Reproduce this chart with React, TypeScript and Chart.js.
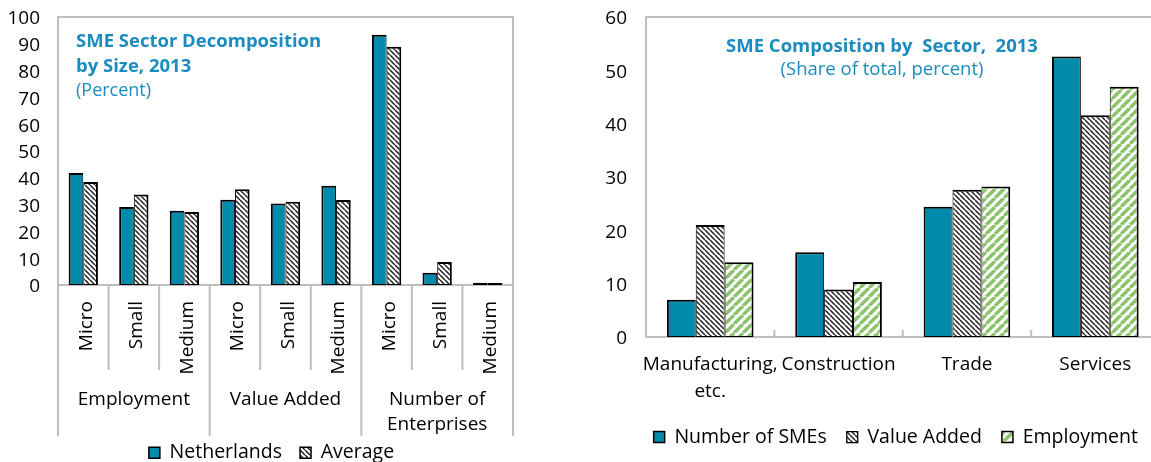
import React, { useEffect, useRef } from 'react';
import { Chart, registerables } from 'chart.js';

Chart.register(...registerables);

// ---------- data ----------
const sizeLabels = ['Micro', 'Small', 'Medium', 'Micro', 'Small', 'Medium', 'Micro', 'Small', 'Medium'];
const sizeGroups: (string | string[])[] = ['Employment', 'Value Added', ['Number of', 'Enterprises']];
const netherlands = [41.8, 29.1, 27.7, 31.8, 30.4, 37.0, 93.4, 4.6, 0.8];
const average = [38.4, 33.8, 27.2, 35.7, 31.1, 31.7, 88.9, 8.6, 0.7];
const leftTicksMax = 100;
const leftTitleLines = ['SME Sector Decomposition', 'by Size, 2013'];
const leftSubtitle = '(Percent)';

const sectors: (string | string[])[] = [['Manufacturing,', 'etc.'], 'Construction', 'Trade', 'Services'];
const numberOfSMEs = [7.0, 15.9, 24.4, 52.6];
const valueAdded = [21.0, 8.9, 27.6, 41.6];
const employment = [14.0, 10.3, 28.2, 46.9];
const rightTicksMax = 60;
const rightTitle = 'SME Composition by  Sector,  2013';
const rightSubtitle = '(Share of total, percent)';

// ---------- style ----------
const FONT = "'Open Sans', 'Noto Sans', sans-serif";
const TEAL = '#008aab';
const TITLE = '#1a8cbf';
const FRAME = '#bfbfbf';

Chart.defaults.font.family = FONT;
Chart.defaults.font.size = 19;
Chart.defaults.color = '#000';

function hatch(ctx: CanvasRenderingContext2D, size: number, width: number, color: string, dir: 'down' | 'up') {
  const c = document.createElement('canvas');
  c.width = size;
  c.height = size;
  const g = c.getContext('2d')!;
  g.fillStyle = '#fff';
  g.fillRect(0, 0, size, size);
  g.strokeStyle = color;
  g.lineWidth = width;
  g.beginPath();
  for (const k of [-size, 0, size]) {
    if (dir === 'down') {
      g.moveTo(k, 0);
      g.lineTo(k + size, size);
    } else {
      g.moveTo(k, size);
      g.lineTo(k + size, 0);
    }
  }
  g.stroke();
  return ctx.createPattern(c, 'repeat');
}

const framePlugin = {
  id: 'frame',
  beforeDatasetsDraw(chart: any) {
    const { ctx, chartArea } = chart;
    const { left, right, top, bottom } = chartArea;
    ctx.save();
    ctx.strokeStyle = FRAME;
    ctx.lineWidth = 2;
    ctx.strokeRect(left, top, right - left, bottom - top);
    ctx.restore();
  },
};

// moves the legend sideways so it sits where the original placed it
const legendShift = {
  id: 'legendShift',
  afterLayout(chart: any, _args: any, opts: any) {
    const l = chart.legend;
    if (!l || !opts || !opts.dx) return;
    l.left += opts.dx;
    l.right += opts.dx;
  },
};

function boundaryX(chart: any, i: number, n: number) {
  const xs = chart.scales.x;
  const { left, right } = chart.chartArea;
  if (i === 0) return left;
  if (i === n) return right;
  return (xs.getPixelForValue(i - 1) + xs.getPixelForValue(i)) / 2;
}

const leftDecor = {
  id: 'leftDecor',
  afterDraw(chart: any) {
    const { ctx, chartArea } = chart;
    const { left, bottom } = chartArea;
    const xs = chart.scales.x;
    const n = sizeLabels.length;
    const per = n / sizeGroups.length;
    ctx.save();
    ctx.strokeStyle = FRAME;
    ctx.lineWidth = 2;
    for (let i = 0; i <= n; i++) {
      const x = boundaryX(chart, i, n);
      const len = i % per === 0 ? 151 : 85;
      ctx.beginPath();
      ctx.moveTo(x, bottom);
      ctx.lineTo(x, bottom + len);
      ctx.stroke();
    }
    ctx.fillStyle = '#000';
    ctx.font = `19px ${FONT}`;
    ctx.textAlign = 'center';
    ctx.textBaseline = 'middle';
    sizeGroups.forEach((g, gi) => {
      const cx = (xs.getPixelForValue(gi * per) + xs.getPixelForValue(gi * per + per - 1)) / 2;
      const lines = Array.isArray(g) ? g : [g];
      lines.forEach((l, li) => ctx.fillText(l, cx, bottom + 115 + li * 25));
    });
    // title
    ctx.fillStyle = TITLE;
    ctx.textAlign = 'left';
    ctx.textBaseline = 'alphabetic';
    ctx.font = `bold 18.5px ${FONT}`;
    leftTitleLines.forEach((l, li) => ctx.fillText(l, left + 18, 47 + li * 25));
    ctx.font = `18px ${FONT}`;
    ctx.fillText(leftSubtitle, left + 18, 96);
    ctx.restore();
  },
};

const rightDecor = {
  id: 'rightDecor',
  beforeDatasetsDraw(chart: any) {
    const { ctx, chartArea } = chart;
    const { bottom } = chartArea;
    const n = sectors.length;
    ctx.save();
    ctx.strokeStyle = FRAME;
    ctx.lineWidth = 2;
    for (let i = 1; i < n; i++) {
      const x = boundaryX(chart, i, n);
      ctx.beginPath();
      ctx.moveTo(x, bottom - 7);
      ctx.lineTo(x, bottom);
      ctx.stroke();
    }
    ctx.restore();
  },
  afterDraw(chart: any) {
    const { ctx, chartArea } = chart;
    const cx = chartArea.left + 236;
    ctx.save();
    ctx.fillStyle = TITLE;
    ctx.textAlign = 'center';
    ctx.textBaseline = 'alphabetic';
    ctx.font = `bold 18.5px ${FONT}`;
    ctx.fillText(rightTitle, cx, 52);
    ctx.font = `18.5px ${FONT}`;
    ctx.fillText(rightSubtitle, cx, 75);
    ctx.restore();
  },
};

function useChart(build: (ctx: CanvasRenderingContext2D) => any) {
  const ref = useRef<HTMLCanvasElement>(null);
  useEffect(() => {
    const canvas = ref.current!;
    const ctx = canvas.getContext('2d')!;
    const chart = new Chart(ctx, build(ctx));
    return () => chart.destroy();
  }, []);
  return ref;
}

const tickFont = { size: 19, family: FONT };
const legendFont = { size: 19.5, family: FONT };
const noGrid = { display: false, drawTicks: false };

function fixY(width: number) {
  return (s: any) => {
    s.width = width;
    s.paddingTop = 0;
    s.paddingBottom = 0;
  };
}

function buildLeft(ctx: CanvasRenderingContext2D) {
  const gray = hatch(ctx, 5, 1.5, '#222', 'down');
  return {
    type: 'bar',
    data: {
      labels: sizeLabels,
      datasets: [
        { label: 'Netherlands', data: netherlands, backgroundColor: TEAL, borderColor: '#000', borderWidth: { top: 2, left: 2, right: 1, bottom: 1 }, borderSkipped: false },
        { label: 'Average', data: average, backgroundColor: gray, borderColor: '#000', borderWidth: { top: 2, left: 1, right: 2, bottom: 1 }, borderSkipped: false },
      ],
    },
    options: {
      responsive: false,
      animation: false,
      layout: { padding: { left: 0, right: 27, top: 17, bottom: 2.5 } },
      datasets: { bar: { categoryPercentage: 0.58, barPercentage: 1 } },
      scales: {
        x: {
          grid: noGrid,
          border: { display: false },
          ticks: { autoSkip: false, minRotation: 90, maxRotation: 90, padding: 16, labelOffset: 3, color: '#000', font: tickFont },
          afterFit: (s: any) => { s.height = 140; },
        },
        y: {
          min: 0,
          max: leftTicksMax,
          grid: noGrid,
          border: { display: false },
          ticks: { stepSize: 10, autoSkip: false, padding: 18, labelOffset: 2, color: '#000', font: tickFont },
          afterFit: fixY(58),
        },
      },
      plugins: {
        legend: { position: 'bottom', labels: { boxWidth: 11, boxHeight: 11, padding: 18, color: '#000', font: legendFont } },
        legendShift: { dx: 15 },
        tooltip: { enabled: false },
      },
    },
    plugins: [framePlugin, legendShift, leftDecor],
  };
}

function buildRight(ctx: CanvasRenderingContext2D) {
  const gray = hatch(ctx, 5, 1.5, '#222', 'down');
  const green = hatch(ctx, 9, 3.5, '#8cc46e', 'up');
  return {
    type: 'bar',
    data: {
      labels: sectors,
      datasets: [
        { label: 'Number of SMEs', data: numberOfSMEs, backgroundColor: TEAL, borderColor: '#000', borderWidth: { top: 2, left: 2, right: 1, bottom: 1 }, borderSkipped: false },
        { label: 'Value Added', data: valueAdded, backgroundColor: gray, borderColor: '#000', borderWidth: { top: 2, left: 1, right: 1, bottom: 1 }, borderSkipped: false },
        { label: 'Employment', data: employment, backgroundColor: green, borderColor: '#000', borderWidth: { top: 2, left: 1, right: 2, bottom: 1 }, borderSkipped: false },
      ],
    },
    options: {
      responsive: false,
      animation: false,
      layout: { padding: { left: 0, right: 30.5, top: 17, bottom: 18.25 } },
      datasets: { bar: { categoryPercentage: 0.675, barPercentage: 1 } },
      scales: {
        x: {
          grid: noGrid,
          border: { display: false },
          ticks: { autoSkip: false, minRotation: 0, maxRotation: 0, padding: 14.7, color: '#000', font: { size: 19, family: FONT, lineHeight: 1.4 } },
          afterFit: (s: any) => { s.height = 70.25; },
        },
        y: {
          min: 0,
          max: rightTicksMax,
          grid: noGrid,
          border: { display: false },
          ticks: { stepSize: 10, autoSkip: false, padding: 19, labelOffset: 2, color: '#000', font: tickFont },
          afterFit: fixY(56),
        },
      },
      plugins: {
        legend: { position: 'bottom', labels: { boxWidth: 11, boxHeight: 11, padding: 20, color: '#000', font: legendFont } },
        legendShift: { dx: 21 },
        tooltip: { enabled: false },
      },
    },
    plugins: [framePlugin, legendShift, rightDecor],
  };
}

export default function App() {
  const leftRef = useChart(buildLeft);
  const rightRef = useChart(buildRight);
  return (
    <div style={{ position: 'fixed', left: 0, top: 0, width: 1151, height: 462, overflow: 'hidden', background: '#fff' }}>
      <canvas ref={leftRef} width={540} height={475} style={{ position: 'absolute', left: 0, top: 0 }} />
      <canvas ref={rightRef} width={600} height={475} style={{ position: 'absolute', left: 590, top: 0 }} />
    </div>
  );
}
